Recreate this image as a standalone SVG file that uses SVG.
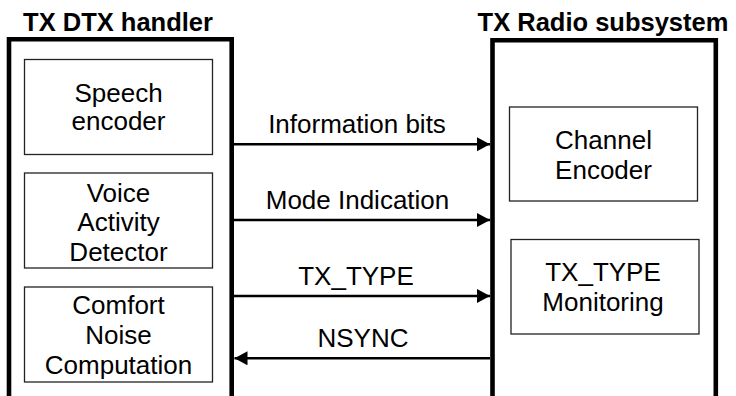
<svg xmlns="http://www.w3.org/2000/svg" width="736" height="396" viewBox="0 0 736 396">
<style>
.frame{fill:none;stroke:#000;stroke-width:4.6}
.box{fill:#fff;stroke:#222;stroke-width:1.3}
.t{font-family:"Liberation Sans",Arial,sans-serif;font-size:26px;fill:#000;text-anchor:middle}
.title{font-family:"Liberation Sans",Arial,sans-serif;font-size:25.5px;font-weight:bold;fill:#000;text-anchor:middle}
.conn{stroke:#000;stroke-width:2.5;fill:none}
</style>
<defs>
<marker id="ah" markerUnits="userSpaceOnUse" markerWidth="14" markerHeight="15" refX="13" refY="7" orient="auto">
<path d="M0,0 L13,7 L0,14 Z" fill="#000"/>
</marker>
</defs>
<rect width="736" height="396" fill="#fff"/>
<g id="tx-dtx-handler">
<text class="title" x="118" y="31">TX DTX handler</text>
<path class="frame" d="M9,396 V39.2 H231.7 V396"/>
</g>
<g id="tx-radio-subsystem">
<text class="title" x="603" y="31">TX Radio subsystem</text>
<path class="frame" d="M492.5,396 V40.2 H715.8 V396"/>
</g>
<g id="speech-encoder">
<rect class="box" x="24.5" y="59.5" width="188" height="95"/>
<text class="t" x="118.5" y="101.5">Speech</text>
<text class="t" x="118.5" y="130">encoder</text>
</g>
<g id="vad">
<rect class="box" x="24.5" y="173" width="188" height="95"/>
<text class="t" x="118.5" y="201.5">Voice</text>
<text class="t" x="118.5" y="231">Activity</text>
<text class="t" x="118.5" y="261">Detector</text>
</g>
<g id="comfort-noise">
<rect class="box" x="24.5" y="287" width="188" height="95"/>
<text class="t" x="118.5" y="313.5">Comfort</text>
<text class="t" x="118.5" y="343.5">Noise</text>
<text class="t" x="118.5" y="374">Computation</text>
</g>
<g id="channel-encoder">
<rect class="box" x="509.5" y="107" width="188" height="94"/>
<text class="t" x="603.5" y="148.5">Channel</text>
<text class="t" x="603.5" y="179">Encoder</text>
</g>
<g id="tx-type-monitoring">
<rect class="box" x="511" y="239.5" width="188" height="94.5"/>
<text class="t" x="603" y="281">TX_TYPE</text>
<text class="t" x="603" y="310.5">Monitoring</text>
</g>
<g id="connectors">
<line class="conn" x1="234" y1="144.3" x2="490" y2="144.3" marker-end="url(#ah)"/>
<line class="conn" x1="234" y1="220" x2="490" y2="220" marker-end="url(#ah)"/>
<line class="conn" x1="234" y1="296" x2="490" y2="296" marker-end="url(#ah)"/>
<line class="conn" x1="490" y1="358.3" x2="234.5" y2="358.3" marker-end="url(#ah)"/>
<text class="t" x="357" y="133.3">Information bits</text>
<text class="t" x="357.5" y="209">Mode Indication</text>
<text class="t" x="356" y="285">TX_TYPE</text>
<text class="t" x="363" y="346.7">NSYNC</text>
</g>
</svg>
